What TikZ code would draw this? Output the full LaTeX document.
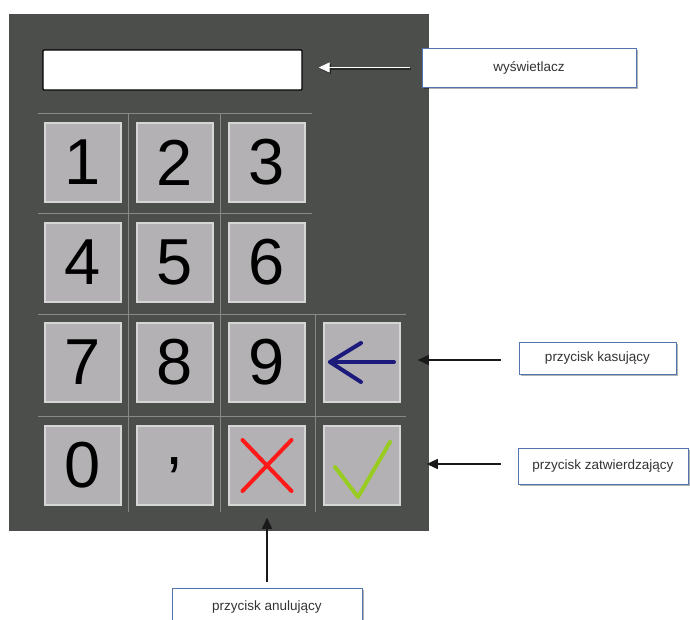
\documentclass[tikz,border=0pt]{standalone}
\usepackage{fontspec}
\setmainfont{Liberation Sans}
\usetikzlibrary{arrows.meta,calc,shadows}
\definecolor{panel}{HTML}{4B4E4A}
\definecolor{gridc}{HTML}{858A84}
\definecolor{keyfill}{HTML}{B4B1B4}
\definecolor{keyedge}{HTML}{D6D6D6}
\definecolor{lbledge}{HTML}{5275AE}
\definecolor{lbltext}{HTML}{333333}
\definecolor{crossred}{HTML}{FF1A1A}
\definecolor{checkgreen}{HTML}{99CC22}
\definecolor{backnavy}{HTML}{1C1A7A}
\begin{document}
\begin{tikzpicture}[x=1pt,y=-1pt,
  gridline/.style={draw=gridc,line width=0.9pt},
  key/.style={draw=keyedge,fill=keyfill,line width=1.5pt,minimum width=76pt,minimum height=79pt,
    inner sep=0pt,font=\fontsize{65}{65}\selectfont},
  lbl/.style={draw=lbledge,fill=white,line width=0.9pt,inner sep=0pt,text=lbltext,
    font=\fontsize{13.5}{16}\selectfont,
    drop shadow={shadow xshift=2pt,shadow yshift=-2pt,opacity=0.3,fill=black}},
  tip/.style={-{Triangle[length=11pt,width=10pt]}},
  pointer/.style={draw=black!90,line width=1.3pt,tip},
  glyph/.style={line width=4pt,line cap=round,line join=round}]
\useasboundingbox (0,0) rectangle (690,619);
\fill[white] (0,0) rectangle (690,619);

% keypad body
\fill[panel] (9,14) rectangle (429,531);

% display
\node[draw=black,fill=white,line width=1.4pt,rounded corners=1pt,minimum width=259pt,minimum height=40pt,inner sep=0pt] (disp) at (172.5,70) {};

% separating grid lines
\draw[gridline] (38,113) -- (312,113);
\draw[gridline] (38,213) -- (312,213);
\draw[gridline] (38,314) -- (406,314);
\draw[gridline] (38,416) -- (406,416);
\draw[gridline] (128,113) -- (128,512);
\draw[gridline] (220,113) -- (220,512);
\draw[gridline] (315,314) -- (315,512);

% keys
\node[key] (k1) at (83,162.5) {1};
\node[key] (k2) at (175,162.5) {2};
\node[key] (k3) at (267,162.5) {3};
\node[key] (k4) at (83,262.5) {4};
\node[key] (k5) at (175,262.5) {5};
\node[key] (k6) at (267,262.5) {6};
\node[key] (k7) at (83,362.5) {7};
\node[key] (k8) at (175,362.5) {8};
\node[key] (k9) at (267,362.5) {9};
\node[key] (kback) at (362,362.5) {};
\node[key] (k0) at (83,465.5) {0};
\node[key] (kcomma) at (175,465.5) {,};
\node[key] (kcancel) at (267,465.5) {};
\node[key] (kok) at (362,465.5) {};

% key symbols
\draw[glyph,backnavy] ($(kback.center)+(-32,-0.5)$) -- ($(kback.center)+(32,-0.5)$);
\draw[glyph,backnavy] ($(kback.center)+(-1,-19.5)$) -- ($(kback.center)+(-32,-0.5)$) -- ($(kback.center)+(-1,19.5)$);
\draw[glyph,crossred] ($(kcancel.center)+(-24.5,-25.5)$) -- ($(kcancel.center)+(24.5,25.5)$);
\draw[glyph,crossred] ($(kcancel.center)+(24.5,-25.5)$) -- ($(kcancel.center)+(-24.5,25.5)$);
\draw[glyph,checkgreen] ($(kok.center)+(-27,1.5)$) -- ($(kok.center)+(-4,31.5)$) -- ($(kok.center)+(28,-23.5)$);

% callout labels
\node[lbl,minimum width=214pt,minimum height=39pt] (ldisp) at (529,67.5) {wyświetlacz};
\node[lbl,minimum width=157pt,minimum height=32pt] (lback) at (597.5,358) {przycisk kasujący};
\node[lbl,minimum width=170pt,minimum height=36pt] (lok) at (603,466) {przycisk zatwierdzający};
\node[lbl,minimum width=190pt,minimum height=36pt,text depth=0pt] (lcancel) at (267,606) {przycisk anulujący};

% callout arrows
\draw[draw=black,opacity=0.45,line width=1.3pt,tip,shorten <=12pt,shorten >=16pt]
  ($(ldisp.west)+(1.5,1.5)$) -- ($(ldisp.west -| disp.east)+(1.5,1.5)$);
\draw[draw=white,line width=1.3pt,tip,shorten <=12pt,shorten >=16pt]
  (ldisp.west) -- (ldisp.west -| disp.east);
\draw[pointer,shorten <=18pt,shorten >=17pt] ($(lback.west)+(0,2)$) -- ($(lback.west -| kback.east)+(0,2)$);
\draw[pointer,shorten <=17pt,shorten >=26pt] ($(lok.west)+(0,-2)$) -- ($(lok.west -| kok.east)+(0,-2)$);
\draw[pointer,shorten <=6pt,shorten >=12pt] (lcancel.north) -- (lcancel.north |- kcancel.south);
\end{tikzpicture}
\end{document}
